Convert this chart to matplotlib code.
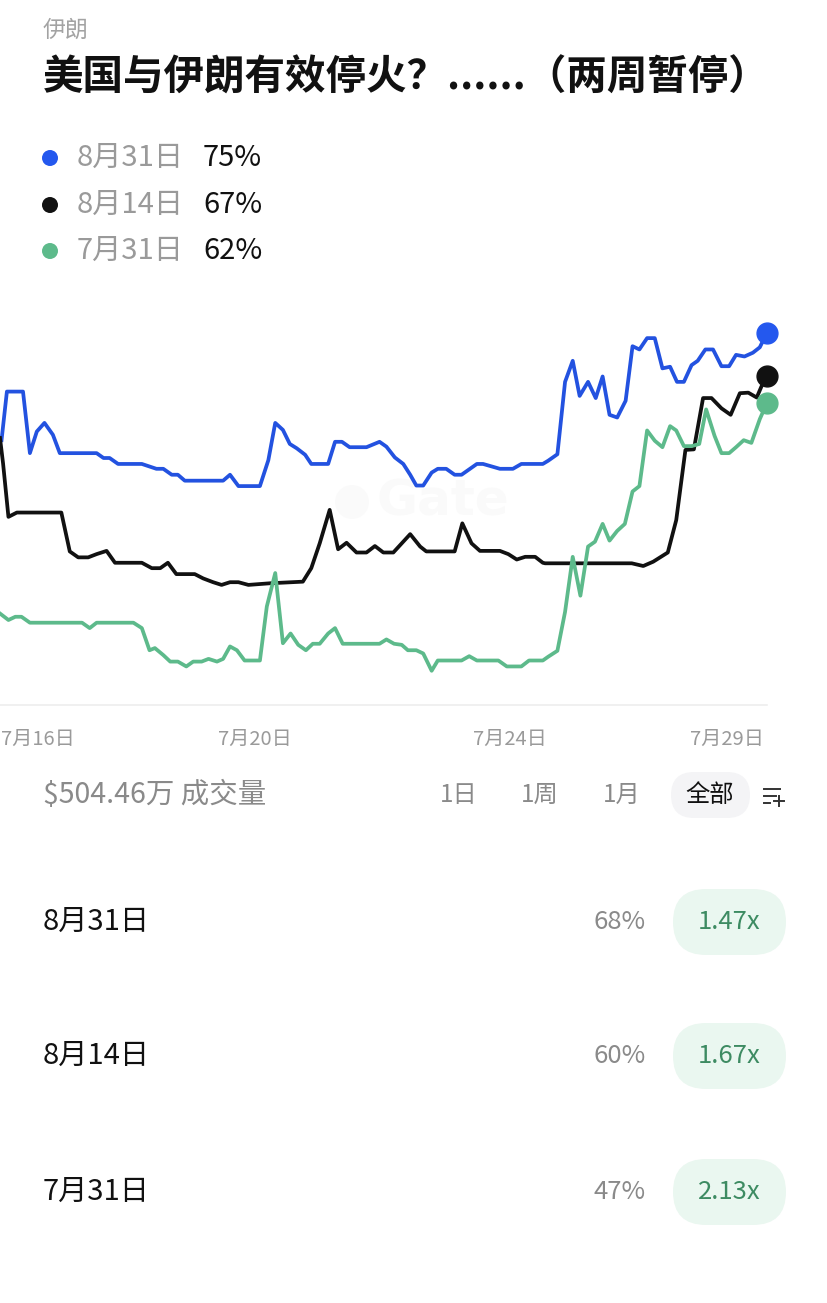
import matplotlib
matplotlib.use('Agg')
import matplotlib.pyplot as plt
from matplotlib.patches import FancyBboxPatch, Circle
from matplotlib.lines import Line2D

plt.rcParams['font.family'] = ['Noto Sans CJK SC', 'DejaVu Sans']

# ---------------- data ----------------
category = "伊朗"
title = "美国与伊朗有效停火？......（两周暂停）"
series_names = ["8月31日", "8月14日", "7月31日"]
series_colors = ["#2352e0", "#111111", "#5dba8b"]

# time index (0 = start of chart, 100 = latest point)
blue_t = [0.2, 0.9, 3.0, 3.9, 4.8, 5.8, 6.9, 7.8, 12.6, 13.5, 14.3, 15.4, 18.5, 20.4, 21.3, 22.4, 23.2,
          24.1, 29.1, 30.0, 31.1, 33.9, 35.0, 35.9, 36.9, 37.8, 38.7, 39.8, 40.6, 42.8, 43.7, 44.6,
          45.6, 47.8, 49.5, 50.4, 51.5, 52.6, 53.5, 54.3, 55.2, 56.3, 57.1, 58.2, 59.3, 60.2, 61.3,
          62.2, 63.0, 65.2, 66.9, 68.0, 70.8, 71.5, 72.7, 73.7, 74.7, 75.6, 76.7, 77.7, 78.6, 79.5,
          80.5, 81.6, 82.5, 83.4, 84.4, 85.4, 86.4, 87.4, 88.3, 89.2, 90.2, 91.0, 92.0, 93.0, 94.1,
          95.1, 96.0, 97.1, 98.2, 99.1, 100.0]
blue_v = [55.2, 64.2, 64.2, 52.8, 56.8, 58.4, 56.2, 52.8, 52.8, 51.9, 51.9, 50.8, 50.8, 49.9, 49.9, 48.8, 48.8,
          47.7, 47.7, 48.8, 46.7, 46.7, 51.5, 58.4, 57.1, 54.5, 53.7, 52.5, 50.8, 50.8, 54.9, 54.9,
          53.9, 53.9, 54.9, 54.0, 52.0, 50.8, 48.8, 46.8, 46.8, 49.2, 49.9, 49.9, 48.8, 48.8, 49.9,
          50.8, 50.8, 49.9, 49.9, 50.8, 50.8, 51.4, 52.6, 66.0, 69.9, 63.4, 66.0, 63.0, 67.0, 59.9,
          59.4, 62.5, 72.6, 72.0, 74.1, 74.1, 68.5, 68.8, 66.0, 66.0, 69.1, 69.9, 72.0, 72.0, 68.9,
          68.9, 71.0, 70.7, 71.4, 72.4, 75.0]

black_t = [0.0, 0.4, 1.1, 2.2, 8.0, 9.1, 10.2, 11.5, 12.6, 13.9, 15.0, 18.5, 19.8, 20.9, 21.9, 23.0,
           25.4, 26.5, 27.8, 28.9, 30.0, 31.1, 32.4, 35.2, 39.5, 40.6, 41.7, 43.0, 44.1, 45.2, 46.5,
           47.8, 48.9, 50.0, 51.3, 53.5, 54.8, 55.6, 59.3, 60.3, 61.5, 62.6, 65.2, 66.3, 67.4, 68.5,
           69.8, 70.8, 71.1, 82.4, 83.9, 85.2, 87.1, 88.2, 89.4, 90.5, 91.7, 92.8, 94.1, 95.3, 96.5,
           97.6, 98.7, 99.3, 100.0]
black_v = [55.6, 50.9, 41.0, 41.8, 41.8, 34.6, 33.5, 33.5, 34.1, 34.7, 32.5, 32.5, 31.5, 31.5, 32.5, 30.4,
           30.4, 29.6, 28.9, 28.4, 28.9, 28.9, 28.4, 28.7, 29.0, 31.5, 36.1, 42.3, 35.0, 36.2, 34.4,
           34.4, 35.6, 34.4, 34.4, 37.8, 35.5, 34.6, 34.6, 39.8, 36.1, 34.7, 34.7, 34.1, 33.1, 33.6,
           33.6, 32.5, 32.4, 32.4, 31.9, 32.7, 34.4, 40.4, 53.4, 53.5, 63.0, 63.0, 61.1, 59.9, 63.9,
           64.0, 63.1, 65.1, 67.0]

green_t = [0.0, 1.1, 2.0, 2.8, 3.9, 10.7, 11.7, 12.6, 17.4, 18.5, 19.5, 20.2, 21.3, 22.2, 23.2, 24.3,
           25.2, 26.3, 27.2, 28.3, 29.1, 30.0, 30.9, 31.9, 33.9, 34.8, 35.9, 36.9, 37.9, 38.9, 39.9,
           40.8, 41.7, 42.8, 43.7, 44.7, 49.5, 50.4, 51.4, 52.4, 53.2, 54.3, 55.2, 56.3, 57.1, 60.2,
           61.2, 62.2, 65.0, 66.1, 68.0, 69.0, 70.8, 71.5, 72.7, 73.7, 74.7, 75.7, 76.7, 77.6, 78.6,
           79.5, 80.5, 81.5, 82.5, 83.4, 84.4, 85.4, 86.4, 87.4, 88.2, 89.2, 90.2, 91.2, 92.1, 93.2,
           94.1, 95.1, 96.0, 97.0, 98.0, 99.1, 100.0]
green_v = [23.1, 21.9, 22.5, 22.5, 21.4, 21.4, 20.4, 21.4, 21.4, 20.4, 16.3, 16.7, 15.4, 14.2, 14.2, 13.3,
           14.2, 14.2, 14.7, 14.2, 14.7, 17.0, 16.3, 14.4, 14.4, 24.4, 30.6, 17.6, 19.4, 17.3, 16.3,
           17.5, 17.5, 19.4, 20.4, 17.5, 17.5, 18.3, 17.5, 17.3, 16.3, 16.3, 15.7, 12.5, 14.4, 14.4,
           15.2, 14.4, 14.4, 13.3, 13.3, 14.4, 14.4, 15.1, 16.2, 23.4, 33.6, 26.4, 35.5, 36.4, 39.7,
           36.6, 38.4, 39.7, 45.7, 46.7, 57.0, 55.1, 53.9, 57.8, 57.0, 54.1, 54.1, 54.5, 60.9, 56.0,
           52.8, 52.8, 53.9, 55.2, 54.7, 59.1, 62.0]

tick_pos = [5.0, 33.2, 66.5, 94.8]
tick_labels = ["7月16日", "7月20日", "7月24日", "7月29日"]

volume_text = "$504.46万 成交量"
range_buttons = ["1日", "1周", "1月", "全部"]
row_prices = ["68%", "60%", "47%"]
row_multipliers = ["1.47x", "1.67x", "2.13x"]

# ---------------- figure ----------------
W, H = 828, 1303
fig = plt.figure(figsize=(W / 100, H / 100), dpi=100)
fig.patch.set_facecolor('white')

# overlay axes in pixel coordinates for the UI parts
ov = fig.add_axes([0, 0, 1, 1])
ov.set_xlim(0, W)
ov.set_ylim(H, 0)
ov.axis('off')
ov.patch.set_alpha(0)

ov.text(43, 30, category, fontsize=16.5, color='#a3a3a3', va='center', ha='left')
ov.text(43, 78, title, fontsize=29.2, color='#111111', va='center', ha='left', fontweight='bold')

series = [(blue_t, blue_v), (black_t, black_v), (green_t, green_v)]
legend_y = [158, 205, 251]
for (t, v), name, col, ly in zip(series, series_names, series_colors, legend_y):
    dot_col = '#2458ee' if col == "#2352e0" else col
    ov.add_patch(Circle((50, ly), 8, color=dot_col, lw=0))
    ov.text(77, ly, name, fontsize=21, color='#9a9a9a', va='center', ha='left')
    ov.text(203, ly, f"{v[-1]:.0f}%", fontsize=21, color='#111111', va='center', ha='left',
            fontweight='medium')

# watermark
ov.add_patch(Circle((352, 502), 17, color='#fafafa', lw=0, zorder=0))
ov.text(377, 502, "Gate", fontsize=36, color='#fafafa', va='center', ha='left',
        fontweight='bold', family='DejaVu Sans', zorder=0)

# ---------------- chart axes ----------------
ax = fig.add_axes([0, 1 - 705 / H, 766.7 / W, 405 / H])
ax.patch.set_alpha(0)
ax.set_xlim(0, 100)
ax.set_ylim(6.16, 81.16)
for s in ['top', 'right', 'left']:
    ax.spines[s].set_visible(False)
ax.spines['bottom'].set_color('#eeeeee')
ax.spines['bottom'].set_linewidth(1.2)
ax.set_yticks([])
ax.set_xticks(tick_pos)
ax.set_xticklabels(tick_labels)
ax.tick_params(axis='x', length=0, pad=17, labelsize=14.5, labelcolor='#9a9a9a')

for (t, v), col in zip(series, series_colors):
    ax.plot(t, v, color=col, lw=2.7, solid_joinstyle='round', zorder=3)
end_cols = ['#2458ee', '#111111', '#5dba8b']
for (t, v), col in zip(series, end_cols):
    ax.plot(t[-1], v[-1], 'o', ms=15, color=col, mec=col, clip_on=False, zorder=5)

# ---------------- bottom UI ----------------
ov.text(43, 795, volume_text, fontsize=20.5, color='#8a8a8a', va='center', ha='left')
btn_x = [459, 540, 622, 710]
ov.add_patch(FancyBboxPatch((671, 772), 79, 46, boxstyle="round,pad=0,rounding_size=23",
                            color='#f4f4f6', lw=0))
for b, bx in zip(range_buttons, btn_x):
    ov.text(bx, 795, b, fontsize=17.5, color='#111111' if b == "全部" else '#8a8a8a',
            va='center', ha='center')
# filter icon
ov.add_line(Line2D([764, 780], [789, 789], color='#333333', lw=1.4))
ov.add_line(Line2D([764, 776], [796, 796], color='#333333', lw=1.4))
ov.add_line(Line2D([764, 770], [803, 803], color='#333333', lw=1.4))
ov.add_line(Line2D([774, 784], [801, 801], color='#333333', lw=1.4))
ov.add_line(Line2D([779, 779], [796, 806], color='#333333', lw=1.4))

row_y = [922, 1056, 1192]
for name, price, mult, ry in zip(series_names, row_prices, row_multipliers, row_y):
    ov.text(43, ry, name, fontsize=21, color='#111111', va='center', ha='left', fontweight='medium')
    ov.text(646, ry, price, fontsize=18.5, color='#8a8a8a', va='center', ha='right')
    ov.add_patch(FancyBboxPatch((673, ry - 33), 113, 66, boxstyle="round,pad=0,rounding_size=33",
                                color='#eaf7f0', lw=0))
    ov.text(729.5, ry, mult, fontsize=18.5, color='#3d8b62', va='center', ha='center')

fig.savefig('out.png', dpi=100, facecolor='white')
